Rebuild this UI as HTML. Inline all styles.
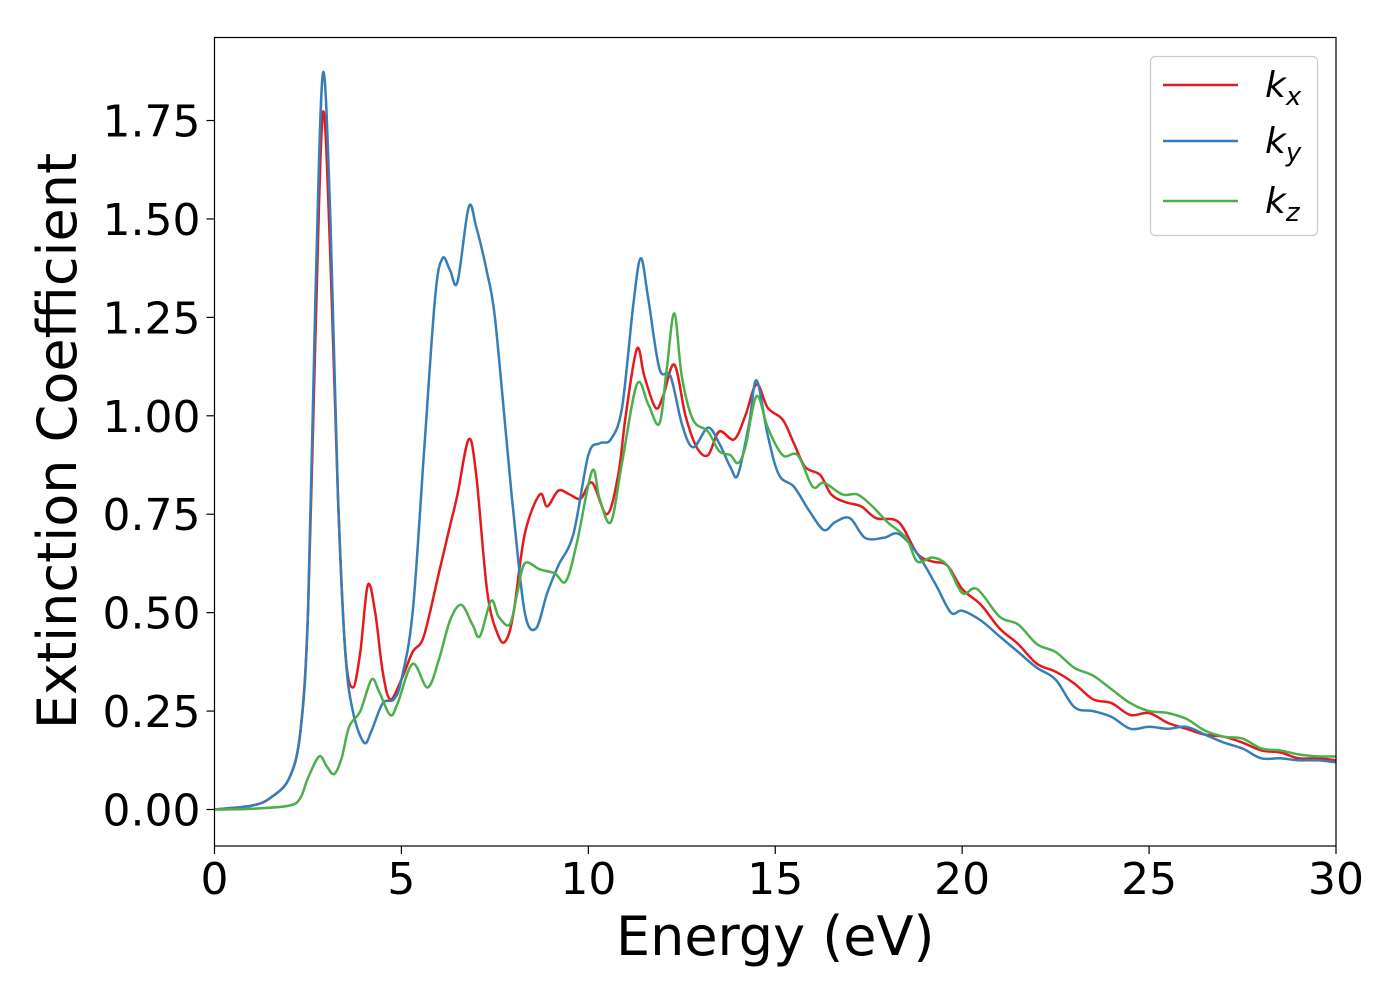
<!DOCTYPE html>
<html><head><meta charset="utf-8"><style>
html,body{margin:0;padding:0;background:#fff;}
svg text{font-family:"DejaVu Sans","Liberation Sans",sans-serif;fill:#000;}
</style></head><body>
<svg id="chart" width="1400" height="1000" xmlns="http://www.w3.org/2000/svg">
<g id="plot"></g>
</svg>
<script>
const kxE=[0,1,1.5,2,2.3,2.5,2.7,2.9,3.1,3.3,3.5,3.7,3.9,4.1,4.3,4.5,4.7,5.0,5.3,5.6,6.0,6.3,6.5,6.8,7.0,7.3,7.6,7.8,8.0,8.3,8.7,8.9,9.2,9.5,9.8,10.1,10.5,10.8,11.0,11.3,11.5,11.8,12.0,12.3,12.6,12.9,13.2,13.5,13.9,14.2,14.5,14.8,15.2,15.5,15.8,16.2,16.5,16.9,17.3,17.7,18.3,18.8,19.2,19.6,20,20.5,21,21.5,22,22.5,23,23.5,24,24.5,25,25.5,26,26.5,27,27.5,28,28.5,29,29.5,30];
const kxV=[0,0.01,0.03,0.08,0.2,0.5,1.2,1.77,1.4,0.8,0.4,0.31,0.4,0.57,0.5,0.35,0.28,0.33,0.4,0.44,0.6,0.72,0.8,0.94,0.85,0.55,0.44,0.43,0.5,0.7,0.8,0.77,0.81,0.8,0.79,0.83,0.75,0.85,1.0,1.17,1.1,1.02,1.05,1.13,1.0,0.92,0.9,0.96,0.94,1.0,1.08,1.02,0.99,0.93,0.87,0.85,0.8,0.78,0.77,0.74,0.73,0.65,0.63,0.62,0.56,0.52,0.46,0.42,0.37,0.35,0.32,0.28,0.27,0.24,0.245,0.22,0.205,0.19,0.185,0.17,0.15,0.145,0.13,0.13,0.125];
const kyE=[0,1,1.5,2,2.3,2.5,2.7,2.9,3.1,3.3,3.5,3.7,4.0,4.2,4.5,4.8,5.0,5.3,5.6,5.9,6.1,6.3,6.5,6.8,7.0,7.3,7.5,7.8,8.0,8.3,8.6,8.9,9.2,9.6,10.0,10.3,10.6,10.9,11.2,11.4,11.6,11.9,12.2,12.5,12.8,13.2,13.5,13.8,14.0,14.3,14.5,14.8,15.1,15.5,15.9,16.3,16.6,17.0,17.4,17.9,18.3,18.8,19.3,19.7,20.0,20.5,21,21.5,22,22.5,23,23.5,24,24.5,25,25.5,26,26.5,27,27.5,28,28.5,29,29.5,30];
const kyV=[0,0.01,0.03,0.08,0.2,0.5,1.3,1.87,1.5,0.8,0.4,0.25,0.17,0.2,0.27,0.28,0.33,0.5,0.9,1.3,1.4,1.37,1.34,1.53,1.48,1.36,1.25,0.95,0.75,0.5,0.46,0.55,0.62,0.7,0.9,0.93,0.94,1.02,1.28,1.4,1.3,1.12,1.1,0.98,0.92,0.97,0.93,0.87,0.85,0.98,1.09,0.95,0.85,0.82,0.76,0.71,0.73,0.74,0.69,0.69,0.7,0.65,0.57,0.5,0.505,0.48,0.44,0.4,0.36,0.33,0.26,0.25,0.235,0.205,0.21,0.205,0.21,0.19,0.17,0.155,0.13,0.13,0.125,0.125,0.12];
const kzE=[0,1,2,2.3,2.5,2.8,3.0,3.2,3.4,3.6,3.9,4.2,4.4,4.7,4.9,5.3,5.7,6.0,6.3,6.6,6.9,7.1,7.4,7.6,7.9,8.1,8.3,8.7,9.1,9.4,9.7,10.1,10.3,10.6,10.9,11.3,11.6,11.9,12.1,12.3,12.5,12.8,13.2,13.5,13.8,14.0,14.2,14.5,14.8,15.2,15.6,16.0,16.3,16.8,17.2,17.6,18.0,18.5,18.8,19.2,19.6,20.0,20.4,21,21.5,22,22.5,23,23.5,24,24.5,25,25.5,26,26.5,27,27.5,28,28.5,29,29.5,30];
const kzV=[0,0.002,0.01,0.03,0.08,0.135,0.11,0.09,0.13,0.21,0.25,0.33,0.3,0.24,0.27,0.37,0.31,0.38,0.48,0.52,0.47,0.44,0.53,0.49,0.47,0.55,0.625,0.61,0.6,0.58,0.68,0.86,0.79,0.73,0.88,1.08,1.03,0.98,1.12,1.26,1.1,0.99,0.96,0.91,0.9,0.88,0.92,1.05,0.97,0.9,0.9,0.82,0.83,0.8,0.8,0.77,0.73,0.69,0.63,0.64,0.62,0.55,0.56,0.49,0.47,0.42,0.4,0.36,0.34,0.305,0.27,0.25,0.245,0.23,0.2,0.185,0.18,0.155,0.15,0.14,0.135,0.135];
const xTicks=[0,5,10,15,20,25,30];
const yTicks=[0,0.25,0.5,0.75,1.0,1.25,1.5,1.75];
const yTickLabels=["0.00","0.25","0.50","0.75","1.00","1.25","1.50","1.75"];

const L=214.5,R=1336,T=37.5,B=846;
const X=v=>L+(v/30)*(R-L);
const Y=v=>809.5-v*393.7;
const NS="http://www.w3.org/2000/svg";
const g=document.getElementById('plot');
function mk(tag,attrs,parent){const e=document.createElementNS(NS,tag);for(const k in attrs)e.setAttribute(k,attrs[k]);(parent||g).appendChild(e);return e;}
function smooth(xs,ys){
  const p=xs.map((x,i)=>[X(x),Y(ys[i])]);
  let d='M'+p[0][0].toFixed(1)+','+p[0][1].toFixed(1);
  for(let i=0;i<p.length-1;i++){
    const p0=p[i-1]||p[i],p1=p[i],p2=p[i+1],p3=p[i+2]||p2;
    const c1=[p1[0]+(p2[0]-p0[0])/6,p1[1]+(p2[1]-p0[1])/6];
    const c2=[p2[0]-(p3[0]-p1[0])/6,p2[1]-(p3[1]-p1[1])/6];
    d+='C'+c1[0].toFixed(1)+','+c1[1].toFixed(1)+' '+c2[0].toFixed(1)+','+c2[1].toFixed(1)+' '+p2[0].toFixed(1)+','+p2[1].toFixed(1);
  }
  return d;
}
mk('clipPath',{id:'clip'}).appendChild(document.createElementNS(NS,'rect'));
const cr=g.querySelector('clipPath rect');cr.setAttribute('x',L);cr.setAttribute('y',T);cr.setAttribute('width',R-L);cr.setAttribute('height',B-T);
const series=[[kxE,kxV,'#e41a1c','kx-line'],[kyE,kyV,'#377eb8','ky-line'],[kzE,kzV,'#4daf4a','kz-line']];
series.forEach(s=>{
  const p=mk('path',{d:smooth(s[0],s[1]),fill:'none',stroke:s[2],'stroke-width':2.5,'clip-path':'url(#clip)'});
  
  
});
const frame=mk('rect',{x:L,y:T,width:R-L,height:B-T,fill:'none',stroke:'#000','stroke-width':1.2});


xTicks.forEach(t=>{
  mk('line',{x1:X(t),x2:X(t),y1:B,y2:B+8,stroke:'#000','stroke-width':1.2});
  const tx=mk('text',{x:X(t),y:B+48,'font-size':44,'text-anchor':'middle'});tx.textContent=t;
  
  
});
yTicks.forEach((t,i)=>{
  mk('line',{x1:L-8,x2:L,y1:Y(t),y2:Y(t),stroke:'#000','stroke-width':1.2});
  const tx=mk('text',{x:L-14,y:Y(t)+16,'font-size':44,'text-anchor':'end'});tx.textContent=yTickLabels[i];
  
  
});
const xl=mk('text',{x:(L+R)/2,y:955,'font-size':54,'text-anchor':'middle'});xl.textContent='Energy (eV)';


const yl=mk('text',{x:0,y:0,'font-size':54,'text-anchor':'middle',transform:'translate(76,441) rotate(-90)'});yl.textContent='Extinction Coefficient';


const lg=mk('g',{});


mk('rect',{x:1150.5,y:56.5,width:167,height:179,rx:5,fill:'#fff','fill-opacity':0.8,stroke:'#ccc','stroke-width':1.2},lg);
const subs=['x','y','z'],ly=[85,141,201];
series.forEach((s,i)=>{
  mk('line',{x1:1163,x2:1238,y1:ly[i],y2:ly[i],stroke:s[2],'stroke-width':2.5},lg);
  const t=mk('text',{x:1265,y:ly[i]+12,'font-size':36,'font-style':'italic'},lg);
  
  
  t.textContent='k';
  const ts=document.createElementNS(NS,'tspan');ts.setAttribute('font-size',26);ts.setAttribute('dy',8);ts.textContent=subs[i];t.appendChild(ts);
});
</script>
</body></html>
